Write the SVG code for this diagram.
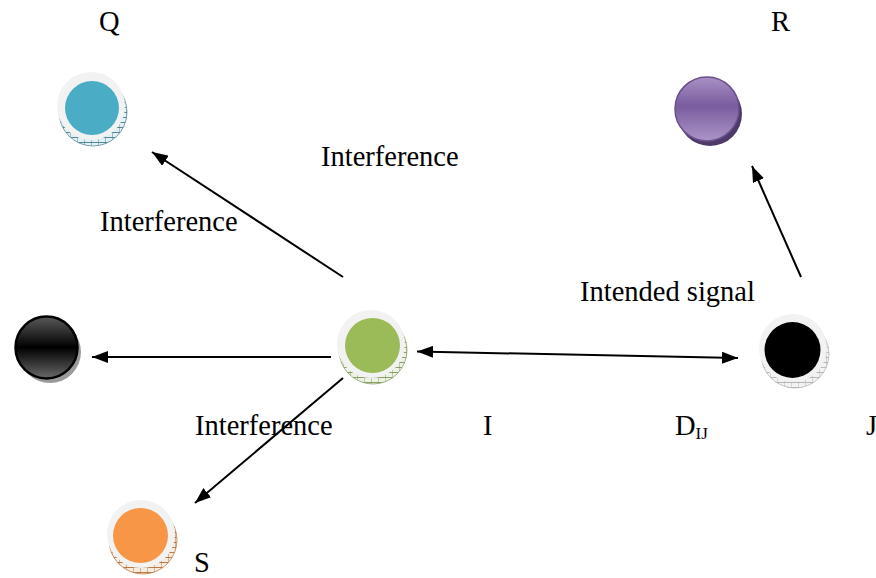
<svg xmlns="http://www.w3.org/2000/svg" width="876" height="578" viewBox="0 0 876 578">
  <style>
    .lbl { font-family: "Liberation Serif", "Times New Roman", serif; font-size: 28.5px; fill: #000; }
    .sub { font-family: "Liberation Serif", "Times New Roman", serif; font-size: 17px; fill: #000; }
    .edge { stroke: #000; stroke-width: 2; fill: none; }
    .face { fill: #f2f2f2; }
  </style>
  <defs>
    <marker id="head" viewBox="0 0 16 12" refX="16" refY="6" markerWidth="16" markerHeight="12" markerUnits="userSpaceOnUse" orient="auto-start-reverse">
      <path d="M0,0 L16,6 L0,12 z" fill="#000"/>
    </marker>
    <!-- ridged coin rims -->
    <pattern id="rimBlue" width="7" height="5" patternUnits="userSpaceOnUse">
      <rect width="7" height="5" fill="#e3f0f3"/>
      <path d="M0,0 V5 M0,2.5 H7" stroke="#2f6f82" stroke-width="0.8"/>
    </pattern>
    <pattern id="rimGreen" width="7" height="5" patternUnits="userSpaceOnUse">
      <rect width="7" height="5" fill="#eef2e6"/>
      <path d="M0,0 V5 M0,2.5 H7" stroke="#6f8a45" stroke-width="0.8"/>
    </pattern>
    <pattern id="rimOrange" width="7" height="5" patternUnits="userSpaceOnUse">
      <rect width="7" height="5" fill="#f7eadf"/>
      <path d="M0,0 V5 M0,2.5 H7" stroke="#a85f25" stroke-width="0.8"/>
    </pattern>
    <pattern id="rimGray" width="7" height="5" patternUnits="userSpaceOnUse">
      <rect width="7" height="5" fill="#f2f2f2"/>
      <path d="M0,0 V5 M0,2.5 H7" stroke="#a8a8a8" stroke-width="0.8"/>
    </pattern>
    <linearGradient id="gPurple" x1="0" y1="0" x2="0" y2="1">
      <stop offset="0" stop-color="#a891c4"/>
      <stop offset="0.45" stop-color="#7a5c9f"/>
      <stop offset="1" stop-color="#ab95c6"/>
    </linearGradient>
    <linearGradient id="gBlack" x1="0" y1="0" x2="0" y2="1">
      <stop offset="0" stop-color="#5a5a5a"/>
      <stop offset="0.5" stop-color="#000"/>
      <stop offset="1" stop-color="#6a6a6a"/>
    </linearGradient>
  </defs>

  <!-- Q -->
  <g id="node-q">
    <circle cx="93" cy="112" r="34" fill="url(#rimBlue)" stroke="#5d8c99" stroke-width="0.8"/>
    <circle class="face" cx="91" cy="106" r="34"/>
    <circle cx="92" cy="108" r="27" fill="#4bacc6"/>
  </g>

  <!-- R -->
  <g id="node-r">
    <circle cx="710" cy="114" r="32" fill="#4e3a68"/>
    <circle cx="707" cy="109" r="32" fill="url(#gPurple)" stroke="#6a4f8c" stroke-width="1.5"/>
  </g>

  <!-- left black node -->
  <g id="node-left">
    <circle cx="50" cy="352" r="31" fill="#9a9a9a"/>
    <circle cx="46.5" cy="347.5" r="31" fill="url(#gBlack)" stroke="#000" stroke-width="2.5"/>
  </g>

  <!-- I -->
  <g id="node-i">
    <circle cx="373" cy="350" r="34" fill="url(#rimGreen)" stroke="#8ea36a" stroke-width="0.8"/>
    <circle class="face" cx="371" cy="344" r="34"/>
    <circle cx="372.5" cy="345.5" r="27.5" fill="#9bbb59"/>
  </g>

  <!-- J -->
  <g id="node-j">
    <circle cx="795" cy="354" r="34" fill="url(#rimGray)" stroke="#b5b5b5" stroke-width="0.8"/>
    <circle class="face" cx="793" cy="348" r="34"/>
    <circle cx="792.5" cy="350" r="28" fill="#000"/>
  </g>

  <!-- S -->
  <g id="node-s">
    <circle cx="143" cy="540" r="34" fill="url(#rimOrange)" stroke="#c08050" stroke-width="0.8"/>
    <circle class="face" cx="141" cy="534" r="34"/>
    <circle cx="140.5" cy="535.5" r="27.5" fill="#f79646"/>
  </g>

  <g id="connectors">
    <line class="edge" x1="343" y1="277" x2="152" y2="152" marker-end="url(#head)"/>
    <line class="edge" x1="331" y1="357" x2="92" y2="357" marker-end="url(#head)"/>
    <line class="edge" x1="343" y1="378" x2="195" y2="503" marker-end="url(#head)"/>
    <line class="edge" x1="417" y1="351.5" x2="738" y2="358" marker-start="url(#head)" marker-end="url(#head)"/>
    <line class="edge" x1="801" y1="277" x2="752" y2="166" marker-end="url(#head)"/>
  </g>

  <g id="labels">
    <text class="lbl" x="99" y="31">Q</text>
    <text class="lbl" x="771" y="31">R</text>
    <text class="lbl" x="321" y="166">Interference</text>
    <text class="lbl" x="100" y="231">Interference</text>
    <text class="lbl" x="580" y="301">Intended signal</text>
    <text class="lbl" x="195" y="435">Interference</text>
    <text class="lbl" x="483" y="435">I</text>
    <text class="lbl" x="675" y="435">D<tspan class="sub" dy="4">IJ</tspan></text>
    <text class="lbl" x="866" y="435">J</text>
    <text class="lbl" x="194" y="572">S</text>
  </g>
</svg>
